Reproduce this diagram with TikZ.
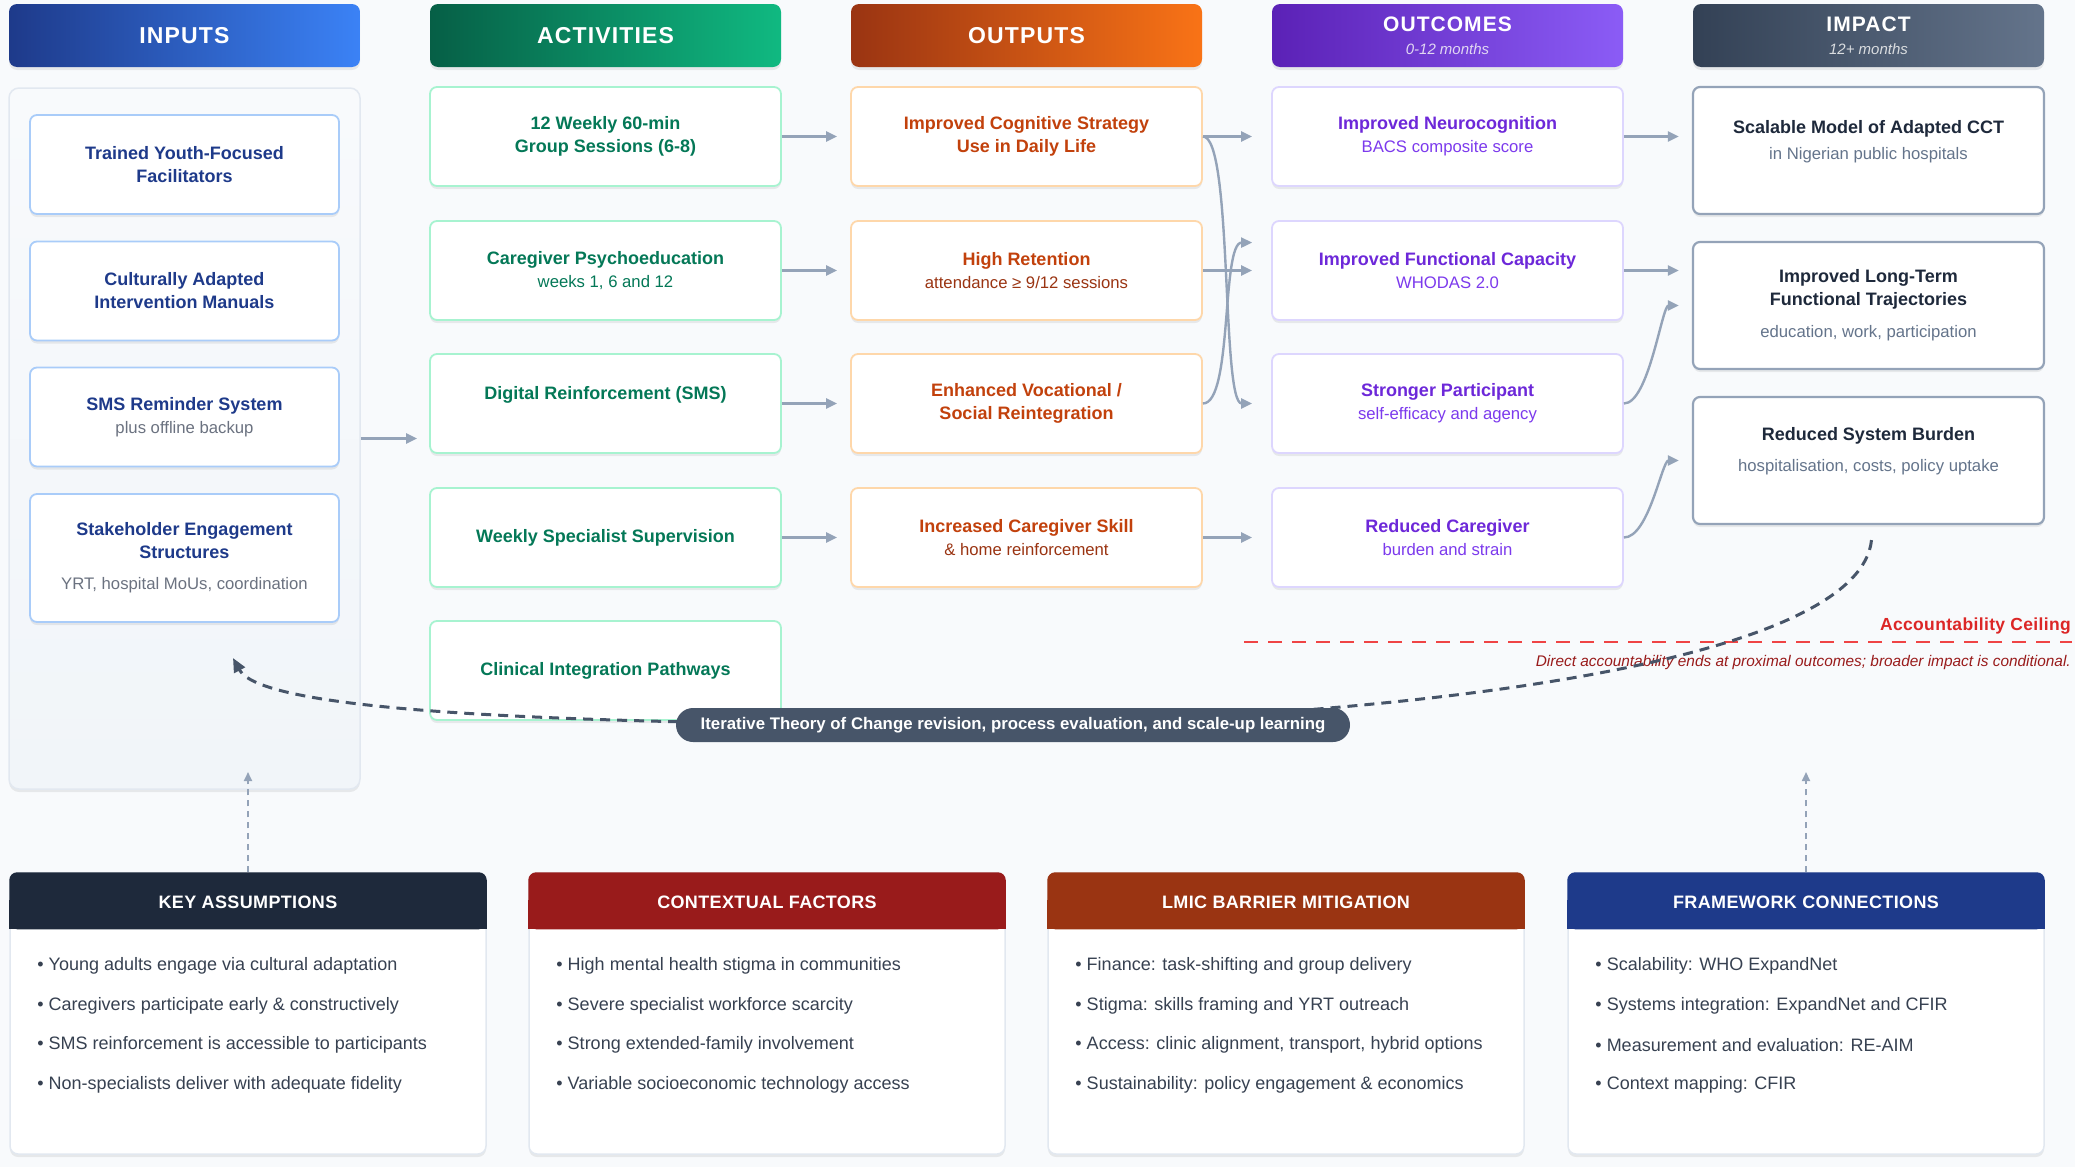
\documentclass[tikz,border=0pt]{standalone}
\usepackage{fontspec}
\setmainfont{Liberation Sans}
\newfontfamily\trackfont[LetterSpace=5]{Liberation Sans}
\newfontfamily\trackfontsm[LetterSpace=2]{Liberation Sans}
\usetikzlibrary{arrows.meta,positioning,calc,shadows}
\definecolor{bgc}{HTML}{F8FAFC}
\definecolor{inA}{HTML}{1E3A8A}\definecolor{inB}{HTML}{3B82F6}
\definecolor{inbd}{HTML}{A9CCF9}\definecolor{intx}{HTML}{1E3A8A}
\definecolor{acA}{HTML}{065F46}\definecolor{acB}{HTML}{10B981}
\definecolor{acbd}{HTML}{A7F3D0}\definecolor{actx}{HTML}{047857}
\definecolor{ouA}{HTML}{9A3412}\definecolor{ouB}{HTML}{F97316}
\definecolor{oubd}{HTML}{FED7AA}\definecolor{outx}{HTML}{C2410C}\definecolor{ousb}{HTML}{9A3412}
\definecolor{ocA}{HTML}{5B21B6}\definecolor{ocB}{HTML}{8B5CF6}
\definecolor{ocbd}{HTML}{DDD6FE}\definecolor{octx}{HTML}{6D28D9}\definecolor{ocsb}{HTML}{7C3AED}
\definecolor{imA}{HTML}{334155}\definecolor{imB}{HTML}{64748B}
\definecolor{imbd}{HTML}{94A3B8}\definecolor{imtx}{HTML}{1E293B}\definecolor{imsb}{HTML}{64748B}
\definecolor{subgray}{HTML}{6B7280}
\definecolor{arr}{HTML}{94A3B8}
\definecolor{loopc}{HTML}{475569}
\definecolor{ceilc}{HTML}{EF4444}\definecolor{ceiltx}{HTML}{DC2626}\definecolor{notec}{HTML}{991B1B}
\definecolor{kaC}{HTML}{1E293B}\definecolor{cfC}{HTML}{991B1B}
\definecolor{lmC}{HTML}{9A3412}\definecolor{fwC}{HTML}{1E3A8A}
\definecolor{itemtx}{HTML}{374151}
\definecolor{panelbd}{HTML}{E2E8F0}\definecolor{panelfill}{HTML}{F1F5F9}
\newcommand{\fs}[2]{\fontsize{#1}{#2}\selectfont}
\newcommand{\subt}[2][subgray]{{\normalfont\fs{16.7}{23}\color{#1}#2}}
\tikzset{
  softshadow/.style={drop shadow={shadow xshift=0pt, shadow yshift=-3pt, opacity=.07, fill=black}},
  colhead/.style 2 args={rounded corners=8pt, left color=#1, right color=#2,
              minimum width=351pt, minimum height=63pt, inner sep=0pt,
              text=white, align=center, font=\trackfont\bfseries\fs{23}{23}, softshadow},
  inpanel/.style={draw=panelbd, line width=1.5pt, top color=bgc, bottom color=panelfill,
              rounded corners=10pt, minimum width=351pt, minimum height=701pt, softshadow},
  card/.style={draw=#1, fill=white, line width=1.8pt, rounded corners=7pt,
              minimum width=351pt, minimum height=99pt, inner sep=0pt, align=center,
              font=\bfseries\fs{18}{23}, softshadow},
  incard/.style={card=inbd, text=intx, minimum width=309pt},
  accard/.style={card=acbd, text=actx},
  oucard/.style={card=oubd, text=outx},
  occard/.style={card=ocbd, text=octx},
  imcard/.style={card=imbd, text=imtx, line width=2.2pt, minimum height=127pt},
  flow/.style={draw=arr, line width=2.4pt, -{Triangle[length=11pt,width=10pt]}},
  fback/.style={draw=loopc, line width=3pt, dash pattern=on 10pt off 7pt,
              -{Triangle[length=14pt,width=12pt]}},
  pillbox/.style={fill=loopc, text=white, rounded corners=17pt, minimum width=674pt,
              minimum height=34pt, inner sep=0pt, font=\bfseries\fs{16.8}{18}},
  ceil/.style={draw=ceilc, line width=2.8pt, dash pattern=on 14pt off 10pt},
  upflow/.style={draw=arr, line width=1.8pt, dash pattern=on 6pt off 5pt,
              -{Triangle[length=9pt,width=8pt]}},
  infobox/.style={draw=panelbd, fill=white, line width=1.5pt, rounded corners=8pt,
              minimum width=476pt, minimum height=281pt, inner sep=0pt, softshadow},
  infohead/.style={text=white, font=\trackfontsm\bfseries\fs{18}{20}},
  infoitem/.style={anchor=west, inner sep=0pt, text=itemtx, font=\fs{18}{22}},
}
\newcommand{\infopanel}[5]{%
  \node[infobox] (#1) at (#2,1013.5) {};
  \fill[#3, rounded corners=8pt] (#1.north west) rectangle ($(#1.north east)+(0,57)$);
  \fill[#3] ($(#1.north west)+(0,28)$) rectangle ($(#1.north east)+(0,57)$);
  \node[infohead] (#1-h) at ($(#1.north)+(0,30)$) {#4};
  \foreach \itm [count=\k] in {#5}
    \node[infoitem] (#1-\k) at ($(#1.north west)+(28,54.5+39.5*\k)$) {\textbullet\ \itm};
}

\begin{document}
\begin{tikzpicture}[x=1pt, y=-1pt, font=\fs{18}{23}]
  \useasboundingbox (0,0) rectangle (2075,1167);
  \fill[bgc] (0,0) rectangle (2075,1167);

  \node[inpanel] (inp) at (184.5,438.5) {};

  \foreach \nm/\cx/\ca/\cb/\lbl in {hin/184.5/inA/inB/INPUTS, hac/605.5/acA/acB/ACTIVITIES, hou/1026.5/ouA/ouB/OUTPUTS}
    \node[colhead={\ca}{\cb}] (\nm) at (\cx,35.5) {\lbl};
  \node[colhead={ocA}{ocB}] (hoc) at (1447.5,35.5)
    {{\fs{21}{23}OUTCOMES}\\{\normalfont\itshape\fs{15}{23}\color{white!82!ocA}0-12 months}};
  \node[colhead={imA}{imB}] (him) at (1868.5,35.5)
    {{\fs{21}{23}IMPACT}\\{\normalfont\itshape\fs{15}{23}\color{white!82!imA}12+ months}};

  \node[incard] (in1) at (184.5,164.5) {Trained Youth-Focused\\Facilitators};
  \node[incard] (in2) at (184.5,291) {Culturally Adapted\\Intervention Manuals};
  \node[incard] (in3) at (184.5,417) {SMS Reminder System\\\subt{plus offline backup}};
  \node[incard, minimum height=128pt] (in4) at (184.5,558)
    {Stakeholder Engagement\\Structures\\[8pt]\subt{YRT, hospital MoUs, coordination}};

  \node[accard] (a1) at (605.5,136.5) {12 Weekly 60-min\\Group Sessions (6-8)};
  \node[accard] (a2) at (605.5,270.5) {Caregiver Psychoeducation\\\subt[actx]{weeks 1, 6 and 12}};
  \node[accard] (a3) at (605.5,403.5) {Digital Reinforcement (SMS)\\[-8pt]\strut};
  \node[accard] (a4) at (605.5,537.5) {Weekly Specialist Supervision};
  \node[accard] (a5) at (605.5,670.5) {Clinical Integration Pathways};

  \node[oucard] (o1) at (1026.5,136.5) {Improved Cognitive Strategy\\Use in Daily Life};
  \node[oucard] (o2) at (1026.5,270.5) {High Retention\\\subt[ousb]{attendance ≥ 9/12 sessions}};
  \node[oucard] (o3) at (1026.5,403.5) {Enhanced Vocational /\\Social Reintegration};
  \node[oucard] (o4) at (1026.5,537.5) {Increased Caregiver Skill\\\subt[ousb]{\& home reinforcement}};

  \node[occard] (c1) at (1447.5,136.5) {Improved Neurocognition\\\subt[ocsb]{BACS composite score}};
  \node[occard] (c2) at (1447.5,270.5) {Improved Functional Capacity\\\subt[ocsb]{WHODAS 2.0}};
  \node[occard] (c3) at (1447.5,403.5) {Stronger Participant\\\subt[ocsb]{self-efficacy and agency}};
  \node[occard] (c4) at (1447.5,537.5) {Reduced Caregiver\\\subt[ocsb]{burden and strain}};

  \node[imcard] (m1) at (1868.5,150.5)
    {Scalable Model of Adapted CCT\\[3pt]\subt[imsb]{in Nigerian public hospitals}\\[-8pt]\strut};
  \node[imcard] (m2) at (1868.5,305.5)
    {Improved Long-Term\\Functional Trajectories\\[9pt]\subt[imsb]{education, work, participation}};
  \node[imcard] (m3) at (1868.5,460.5)
    {Reduced System Burden\\[8pt]\subt[imsb]{hospitalisation, costs, policy uptake}\\[-8pt]\strut};

  \draw[flow, shorten >=12pt] (inp.east) -- (a3.west |- inp.east);
  \foreach \i in {1,...,4}
    \draw[flow, shorten >=13pt] (a\i.east) -- (o\i.west);
  \foreach \i in {1,2,4}
    \draw[flow, shorten >=19pt] (o\i.east) -- (c\i.west);
  \draw[flow, shorten >=19pt] (o1.east) .. controls +(30,0) and +(-50,0) .. (c3.west);
  \draw[flow, shorten >=19pt] (o3.east) .. controls +(30,0) and +(-50,0) .. (c2.171);
  \draw[flow, shorten >=13pt] (c1.east) -- (c1.east -| m1.west);
  \draw[flow, shorten >=13pt] (c2.east) -- (c2.east -| m2.west);
  \draw[flow, shorten >=13pt] (c3.east) .. controls +(25,0) and +(-30,0) .. (m2.west);
  \draw[flow, shorten >=13pt] (c4.east) .. controls +(25,0) and +(-30,0) .. (m3.west);

  \coordinate (ceilL) at (1244,642);
  \coordinate (ceilR) at (2072,642);
  \draw[ceil] (ceilL) -- (ceilR);
  \node[anchor=base east, inner sep=0pt, text=ceiltx, font=\trackfontsm\bfseries\fs{17.5}{20}]
    (ceiltxt) at (2071,630) {Accountability Ceiling};
  \node[anchor=base east, inner sep=0pt, text=notec, font=\itshape\fs{15.4}{17}]
    (ceilnote) at (2071,666) {Direct accountability ends at proximal outcomes; broader impact is conditional.};

  \coordinate (fbstart) at ($(m3.south)+(3,15)$);
  \coordinate (pillc) at (1013,725);
  \coordinate (fbtip) at (233,658);
  \draw[fback] (fbstart) .. controls (1860,650) and (1500,712) .. (pillc)
    .. controls (560,725) and (262,712) .. (fbtip);
  \node[pillbox] (pill) at (pillc)
    {Iterative Theory of Change revision, process evaluation, and scale-up learning};

  \infopanel{ka}{248}{kaC}{KEY ASSUMPTIONS}{Young adults engage via cultural adaptation,
    Caregivers participate early \& constructively,
    SMS reinforcement is accessible to participants,
    Non-specialists deliver with adequate fidelity}
  \infopanel{cf}{767}{cfC}{CONTEXTUAL FACTORS}{High mental health stigma in communities,
    Severe specialist workforce scarcity,
    Strong extended-family involvement,
    Variable socioeconomic technology access}
  \infopanel{lm}{1286}{lmC}{LMIC BARRIER MITIGATION}{Finance: task-shifting and group delivery,
    Stigma: skills framing and YRT outreach,
    {Access: clinic alignment, transport, hybrid options},
    Sustainability: policy engagement \& economics}
  \infopanel{fw}{1806}{fwC}{FRAMEWORK CONNECTIONS}{Scalability: WHO ExpandNet,
    Systems integration: ExpandNet and CFIR,
    Measurement and evaluation: RE-AIM,
    Context mapping: CFIR}

  \coordinate (katip) at (248,772);
  \coordinate (fwtip) at (1806,772);
  \draw[upflow] (ka.north) -- (katip);
  \draw[upflow] (fw.north) -- (fwtip);
\end{tikzpicture}
\end{document}
